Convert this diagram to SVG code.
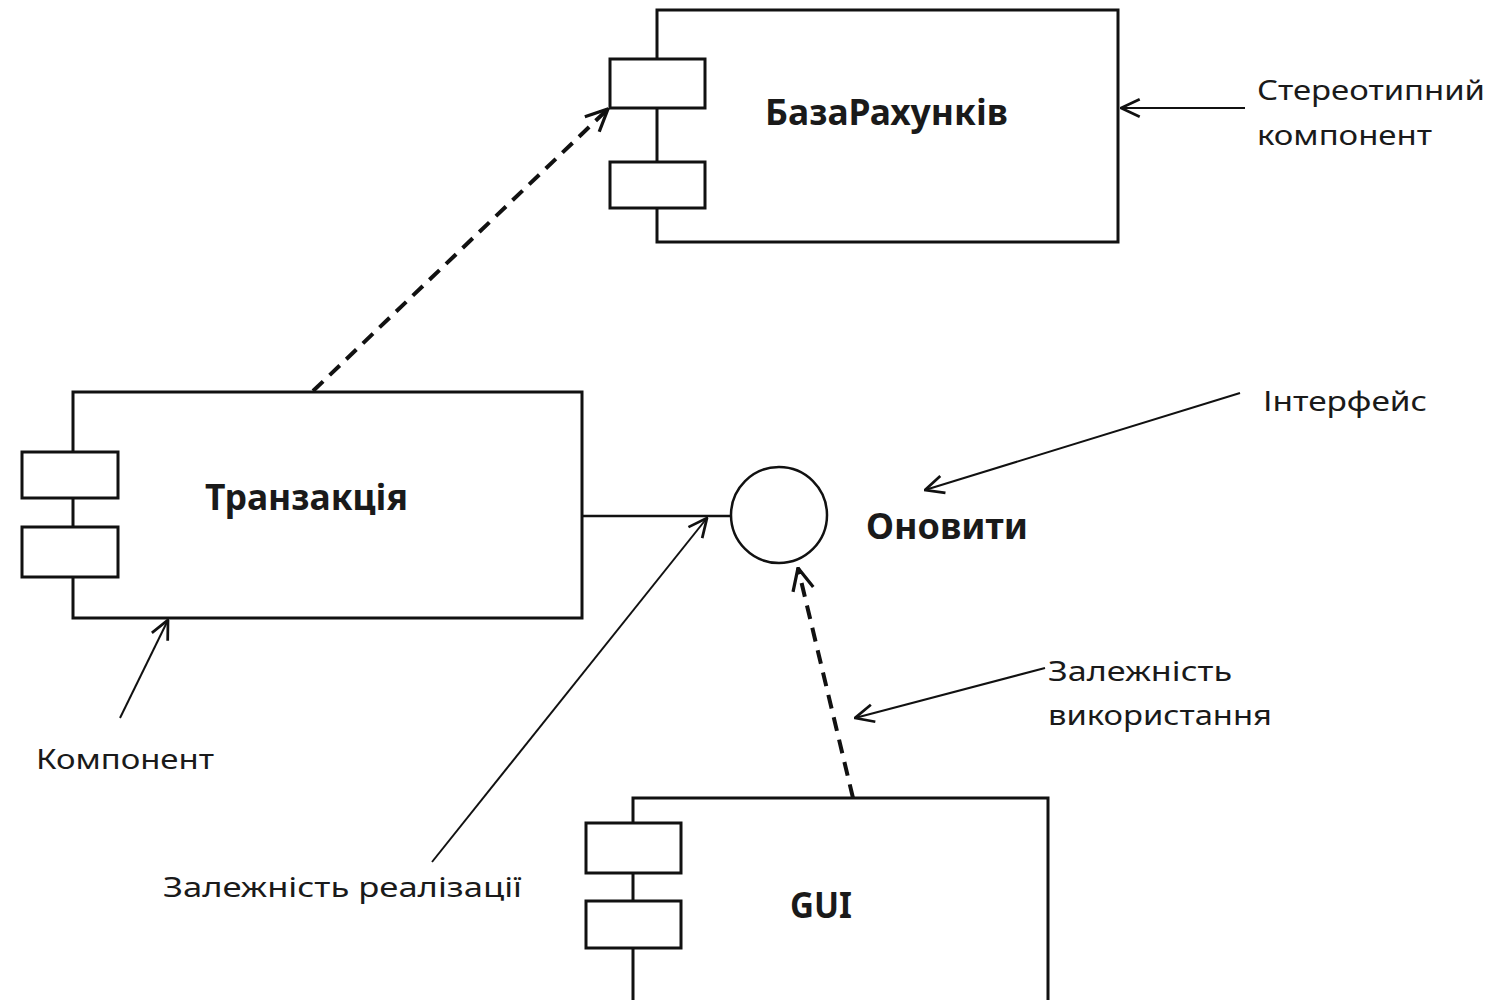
<svg xmlns="http://www.w3.org/2000/svg" width="1494" height="1000" viewBox="0 0 1494 1000">
<style>
.box{fill:#fff;stroke:#111;stroke-width:3}
.port{fill:#fff;stroke:#111;stroke-width:3}
.title{font-family:"Noto Sans","DejaVu Sans",sans-serif;font-weight:bold;font-size:36px;fill:#1a1a1a}
.note{font-family:"Noto Sans","DejaVu Sans",sans-serif;font-size:28px;fill:#1a1a1a}
.dep{fill:none;stroke:#111;stroke-width:4;stroke-dasharray:14 9}
.ann{fill:none;stroke:#111;stroke-width:2}
</style>
<defs>
<marker id="open" viewBox="0 0 20 20" refX="19" refY="10" markerWidth="22" markerHeight="22" markerUnits="userSpaceOnUse" orient="auto">
<path d="M2,2 L19,10 L2,18" fill="none" stroke="#111" stroke-width="2.5"/>
</marker>
<marker id="open2" viewBox="0 0 20 20" refX="19" refY="10" markerWidth="26" markerHeight="26" markerUnits="userSpaceOnUse" orient="auto">
<path d="M2,2 L19,10 L2,18" fill="none" stroke="#111" stroke-width="2.5"/>
</marker>
</defs>
<rect width="1494" height="1000" fill="#fff"/>

<g id="bazarakhunkiv">
<rect class="box" x="657" y="10" width="461" height="232"/>
<rect class="port" x="610" y="59" width="95" height="49"/>
<rect class="port" x="610" y="162" width="95" height="46"/>
<text class="title" x="765" y="125" textLength="243" lengthAdjust="spacingAndGlyphs">БазаРахунків</text>
</g>

<g id="tranzaktsiia">
<rect class="box" x="73" y="392" width="509" height="226"/>
<rect class="port" x="22" y="452" width="96" height="46"/>
<rect class="port" x="22" y="527" width="96" height="50"/>
<text class="title" x="205" y="510" textLength="203" lengthAdjust="spacingAndGlyphs">Транзакція</text>
</g>

<g id="onovyty">
<circle cx="779" cy="515" r="48" fill="#fff" stroke="#111" stroke-width="2.5"/>
<text class="title" x="866" y="539" textLength="162" lengthAdjust="spacingAndGlyphs">Оновити</text>
</g>

<g id="gui">
<path d="M633,1003 V798 H1048 V1003" fill="#fff" stroke="#111" stroke-width="3"/>
<rect class="port" x="586" y="823" width="95" height="50"/>
<rect class="port" x="586" y="901" width="95" height="47"/>
<text class="title" x="790" y="918" textLength="62" lengthAdjust="spacingAndGlyphs">GUI</text>
</g>

<g id="connectors">
<line x1="582" y1="516" x2="731" y2="516" stroke="#111" stroke-width="2.5"/>
<line class="dep" x1="313" y1="391" x2="608" y2="109" marker-end="url(#open2)"/>
<line class="dep" x1="853" y1="798" x2="798" y2="568" marker-end="url(#open2)"/>
<line class="ann" x1="1245" y1="108" x2="1121" y2="108" marker-end="url(#open)"/>
<line class="ann" x1="1240" y1="393" x2="925" y2="490" marker-end="url(#open)"/>
<line class="ann" x1="1045" y1="668" x2="855" y2="718" marker-end="url(#open)"/>
<line class="ann" x1="432" y1="862" x2="707" y2="518" marker-end="url(#open)"/>
<line class="ann" x1="120" y1="718" x2="168" y2="620" marker-end="url(#open)"/>
</g>

<g id="labels">
<text class="note" x="1257" y="100" textLength="228" lengthAdjust="spacingAndGlyphs">Стереотипний</text>
<text class="note" x="1257" y="145" textLength="175" lengthAdjust="spacingAndGlyphs">компонент</text>
<text class="note" x="1263" y="411" textLength="164" lengthAdjust="spacingAndGlyphs">Інтерфейс</text>
<text class="note" x="1048" y="681" textLength="184" lengthAdjust="spacingAndGlyphs">Залежність</text>
<text class="note" x="1048" y="725" textLength="224" lengthAdjust="spacingAndGlyphs">використання</text>
<text class="note" x="36" y="769" textLength="178" lengthAdjust="spacingAndGlyphs">Компонент</text>
<text class="note" x="163" y="897" textLength="359" lengthAdjust="spacingAndGlyphs">Залежність реалізації</text>
</g>
</svg>
